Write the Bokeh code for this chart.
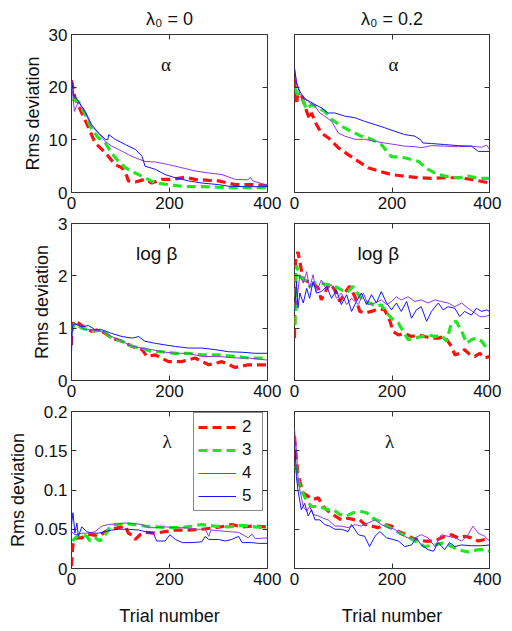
from bokeh.plotting import figure
from bokeh.layouts import gridplot
from bokeh.models import (Range1d, FixedTicker, LinearAxis, Legend, LegendItem,
                          CustomJSTickFormatter, Label, Title)
from bokeh.embed import file_html
from bokeh.resources import INLINE

FONT = "Liberation Sans"
SERIES = ["2", "3", "4", "5"]
COLORS = ["#ff1010", "#22e622", "#9035ee", "#1515ff"]
WIDTHS = [3.2, 3.2, 1, 1]
DASHES = ["9 5", "9 5", "solid", "solid"]

COL_TITLES = ["λ₀ = 0", "λ₀ = 0.2"]
ROW_LABELS = ["α", "log β", "λ"]
Y_LIMITS = [(0, 30), (0, 3), (0, 0.2)]
Y_TICKS = [[0, 10, 20, 30], [0, 1, 2, 3], [0, 0.05, 0.1, 0.15, 0.2]]
X_TICKS = [0, 200, 400]
X_LABEL = "Trial number"
Y_LABEL = "Rms deviation"

# ---- alpha, lambda0 = 0 ----
ALPHA_L0_S2 = [(0, 21.3), (7, 18.0), (21, 15.1), (35, 12.3), (48, 9.4), (62, 8.2), (75, 6.9), (89, 5.3),
               (103, 4.7), (113, 3.1), (116, 2.2), (130, 2.0), (150, 2.5), (164, 1.8), (184, 2.5), (205, 2.5),
               (232, 2.9), (252, 2.5), (280, 2.3), (300, 2.2), (334, 1.5), (368, 1.5), (400, 1.3)]
ALPHA_L0_S3 = [(2, 17.7), (14, 17.3), (28, 14.8), (41, 12.0), (55, 10.4), (69, 9.4), (82, 7.5), (96, 5.9),
               (110, 4.7), (130, 3.7), (150, 2.8), (171, 1.8), (198, 1.5), (232, 1.1), (266, 1.1), (300, 1.0),
               (334, 0.9), (400, 0.9)]
ALPHA_L0_S4 = [(0, 20.8), (6, 15.4), (14, 17.3), (28, 15.1), (41, 12.6), (55, 11.3), (69, 9.7), (82, 8.8),
               (96, 8.2), (116, 7.2), (130, 6.6), (150, 5.9), (171, 5.8), (198, 5.3), (225, 4.7), (252, 4.1),
               (280, 3.7), (307, 3.4), (334, 2.5), (360, 2.4), (365, 2.9), (370, 2.2), (395, 1.5), (400, 1.5)]
ALPHA_L0_S5 = [(0, 21.5), (5, 18.5), (14, 17.3), (28, 15.4), (41, 12.9), (55, 11.3), (69, 10.1), (74, 10.0),
               (76, 11.0), (89, 10.1), (110, 9.1), (130, 8.2), (144, 6.9), (150, 5.0), (171, 4.4), (191, 3.4),
               (212, 2.8), (239, 2.2), (266, 1.8), (300, 1.5), (320, 1.2), (354, 1.1), (400, 1.1)]

# ---- alpha, lambda0 = 0.2 ----
ALPHA_L2_S2 = [(0, 21.5), (4, 16.7), (7, 18.9), (14, 18.6), (25, 15.4), (31, 13.9), (35, 15.1), (45, 12.9),
               (55, 11.3), (69, 10.4), (90, 8.5), (110, 7.2), (131, 5.9), (151, 4.7), (172, 4.1), (199, 3.4),
               (226, 3.1), (254, 2.8), (281, 2.7), (308, 2.8), (336, 2.8), (363, 2.5), (390, 2.0), (400, 1.8)]
ALPHA_L2_S3 = [(0, 19.9), (7, 18.6), (18, 17.3), (25, 15.8), (35, 16.7), (49, 16.1), (62, 15.4), (76, 13.9),
               (96, 12.6), (117, 11.6), (137, 10.7), (158, 10.1), (178, 9.1), (199, 6.8), (226, 6.6), (254, 5.9),
               (274, 4.4), (295, 3.4), (315, 3.0), (336, 2.8), (356, 3.1), (377, 2.7), (400, 2.7)]
ALPHA_L2_S4 = [(0, 23.4), (4, 21.1), (11, 18.6), (21, 18.0), (31, 17.0), (42, 16.4), (52, 15.1), (62, 14.5),
               (76, 13.5), (90, 11.3), (103, 10.7), (124, 10.1), (144, 10.1), (165, 9.7), (185, 9.4), (206, 9.1),
               (226, 8.8), (247, 8.7), (260, 8.5), (281, 8.9), (308, 8.8), (336, 8.7), (363, 8.8), (384, 8.6),
               (394, 9.0), (400, 8.2)]
ALPHA_L2_S5 = [(0, 23.7), (4, 20.8), (11, 19.2), (21, 17.7), (31, 17.3), (42, 16.7), (55, 16.1), (69, 15.1),
               (83, 15.1), (103, 14.5), (124, 14.2), (144, 13.5), (165, 12.9), (185, 12.3), (206, 11.6),
               (226, 11.0), (247, 10.7), (260, 9.9), (263, 9.4), (281, 9.3), (308, 9.1), (336, 8.9), (363, 8.8),
               (377, 7.8), (400, 7.8)]

# ---- log beta, lambda0 = 0 ----
BETA_L0_S2 = [(0, 0.68), (1, 1.0), (4, 1.13), (14, 1.1), (28, 1.0), (41, 0.94), (55, 0.97), (69, 0.9),
              (82, 0.81), (103, 0.75), (124, 0.65), (144, 0.59), (154, 0.46), (171, 0.49), (198, 0.36),
              (225, 0.36), (252, 0.43), (280, 0.3), (307, 0.36), (334, 0.25), (361, 0.3), (400, 0.3)]
BETA_L0_S3 = [(0, 0.94), (7, 1.1), (21, 1.0), (35, 0.97), (48, 0.94), (62, 0.97), (82, 0.81), (103, 0.75),
              (124, 0.65), (144, 0.62), (164, 0.55), (184, 0.55), (211, 0.52), (239, 0.52), (266, 0.49),
              (300, 0.49), (334, 0.46), (361, 0.43), (400, 0.43)]
BETA_L0_S4 = [(0, 1.0), (4, 1.1), (14, 1.06), (28, 0.97), (41, 0.97), (62, 0.94), (82, 0.84), (103, 0.75),
              (124, 0.65), (144, 0.62), (164, 0.59), (184, 0.55), (211, 0.52), (239, 0.52), (266, 0.46),
              (300, 0.46), (334, 0.43), (361, 0.43), (400, 0.39)]
BETA_L0_S5 = [(0, 0.52), (2, 1.05), (7, 1.08), (21, 1.03), (35, 1.05), (48, 0.97), (62, 0.97), (82, 0.9),
              (103, 0.84), (124, 0.81), (137, 0.84), (150, 0.75), (171, 0.71), (191, 0.68), (212, 0.65),
              (239, 0.62), (266, 0.62), (293, 0.59), (320, 0.55), (348, 0.54), (375, 0.52), (400, 0.52)]

# ---- log beta, lambda0 = 0.2 ----
BETA_L2_S2 = [(0, 0.81), (2, 2.27), (7, 2.46), (11, 2.27), (18, 1.92), (28, 1.89), (38, 1.86), (49, 1.76),
              (55, 1.54), (62, 1.67), (72, 1.86), (83, 1.73), (93, 1.51), (103, 1.67), (113, 1.80), (124, 1.6),
              (134, 1.32), (144, 1.29), (158, 1.32), (172, 1.37), (185, 1.35), (196, 1.13), (202, 0.94),
              (213, 0.87), (226, 0.9), (240, 0.84), (254, 0.87), (267, 0.84), (281, 0.81), (295, 0.81),
              (308, 0.84), (322, 0.65), (329, 0.49), (339, 0.52), (349, 0.59), (360, 0.49), (370, 0.46),
              (380, 0.52), (390, 0.43), (400, 0.46)]
BETA_L2_S3 = [(1, 1.06), (4, 2.2), (11, 1.99), (21, 1.92), (31, 1.8), (42, 1.86), (55, 1.86), (69, 1.83),
              (83, 1.8), (96, 1.73), (110, 1.7), (120, 1.8), (131, 1.64), (141, 1.51), (155, 1.48), (168, 1.41),
              (178, 1.45), (189, 1.29), (199, 1.19), (213, 1.1), (223, 0.94), (233, 0.78), (247, 0.81),
              (260, 0.84), (274, 0.87), (288, 0.84), (301, 0.87), (312, 0.75), (322, 1.1), (332, 1.13),
              (343, 0.94), (353, 0.71), (363, 0.78), (373, 0.81), (384, 0.75), (394, 0.62), (400, 0.59)]
BETA_L2_S4 = [(0, 1.76), (4, 1.45), (11, 2.02), (18, 1.86), (25, 2.08), (31, 1.76), (38, 2.02), (45, 1.7),
              (55, 1.92), (66, 1.73), (76, 1.83), (86, 1.57), (96, 1.67), (107, 1.45), (117, 1.57), (131, 1.45),
              (141, 1.67), (151, 1.45), (165, 1.48), (178, 1.54), (189, 1.45), (199, 1.51), (209, 1.6),
              (219, 1.54), (233, 1.6), (247, 1.51), (260, 1.54), (274, 1.48), (288, 1.54), (301, 1.51),
              (315, 1.48), (329, 1.41), (343, 1.48), (356, 1.38), (370, 1.29), (380, 1.22), (390, 1.22),
              (400, 1.25)]
BETA_L2_S5 = [(0, 1.32), (4, 1.89), (7, 1.38), (11, 1.67), (18, 1.48), (25, 1.76), (31, 1.57), (38, 1.89),
              (45, 1.67), (55, 1.7), (66, 1.8), (76, 1.57), (86, 1.73), (96, 1.45), (107, 1.64), (117, 1.32),
              (127, 1.51), (137, 1.67), (148, 1.45), (158, 1.64), (168, 1.48), (178, 1.7), (189, 1.48),
              (199, 1.35), (209, 1.48), (219, 1.32), (230, 1.51), (240, 1.19), (250, 1.35), (260, 1.41),
              (271, 1.13), (281, 1.32), (295, 1.48), (305, 1.35), (315, 1.41), (329, 1.38), (339, 1.22),
              (349, 1.32), (363, 1.25), (373, 1.38), (384, 1.32), (394, 1.35), (400, 1.32)]

# ---- lambda, lambda0 = 0 ----
LAM_L0_S2 = [(0, 0.003), (2, 0.024), (4, 0.035), (11, 0.039), (21, 0.039), (31, 0.043), (41, 0.043),
             (55, 0.041), (69, 0.047), (82, 0.05), (96, 0.052), (110, 0.054), (116, 0.045), (123, 0.043),
             (130, 0.037), (140, 0.043), (150, 0.046), (171, 0.045), (191, 0.047), (212, 0.049), (239, 0.049),
             (266, 0.05), (293, 0.052), (314, 0.054), (327, 0.056), (348, 0.053), (368, 0.054), (400, 0.053)]
LAM_L0_S3 = [(2, 0.035), (11, 0.041), (21, 0.043), (31, 0.041), (38, 0.035), (48, 0.039), (58, 0.035),
             (69, 0.043), (79, 0.054), (89, 0.056), (110, 0.057), (130, 0.056), (150, 0.054), (171, 0.053),
             (198, 0.052), (225, 0.052), (246, 0.054), (266, 0.056), (293, 0.054), (320, 0.053), (348, 0.055),
             (375, 0.053), (400, 0.052)]
LAM_L0_S4 = [(0, 0.047), (7, 0.043), (21, 0.045), (35, 0.045), (48, 0.047), (62, 0.054), (75, 0.056),
             (96, 0.057), (110, 0.058), (130, 0.057), (144, 0.056), (157, 0.052), (171, 0.052), (191, 0.053),
             (212, 0.052), (232, 0.052), (252, 0.05), (273, 0.05), (280, 0.041), (285, 0.049), (320, 0.047),
             (341, 0.046), (361, 0.039), (368, 0.044), (375, 0.038), (400, 0.039)]
LAM_L0_S5 = [(0, 0.056), (3, 0.071), (7, 0.045), (11, 0.058), (14, 0.041), (21, 0.053), (31, 0.047),
             (41, 0.045), (55, 0.045), (69, 0.047), (82, 0.049), (96, 0.05), (116, 0.05), (137, 0.049),
             (150, 0.047), (167, 0.045), (174, 0.035), (191, 0.035), (201, 0.043), (212, 0.037), (226, 0.033),
             (246, 0.033), (266, 0.034), (273, 0.041), (280, 0.037), (300, 0.037), (314, 0.035), (327, 0.037),
             (341, 0.041), (348, 0.033), (368, 0.033), (382, 0.032), (400, 0.032)]

# ---- lambda, lambda0 = 0.2 ----
LAM_L2_S2 = [(0, 0.168), (4, 0.139), (7, 0.122), (11, 0.111), (18, 0.096), (28, 0.092), (38, 0.088),
             (49, 0.09), (59, 0.079), (69, 0.073), (83, 0.067), (96, 0.062), (110, 0.064), (124, 0.062),
             (134, 0.062), (144, 0.056), (158, 0.054), (172, 0.052), (185, 0.056), (199, 0.054), (213, 0.047),
             (230, 0.043), (247, 0.037), (267, 0.035), (288, 0.035), (308, 0.041), (322, 0.043), (336, 0.039),
             (349, 0.041), (363, 0.039), (377, 0.035), (390, 0.037), (400, 0.035)]
LAM_L2_S3 = [(0, 0.128), (4, 0.13), (7, 0.113), (14, 0.1), (25, 0.086), (35, 0.079), (49, 0.079),
             (59, 0.077), (69, 0.075), (79, 0.075), (93, 0.069), (107, 0.067), (120, 0.071), (134, 0.073),
             (148, 0.071), (161, 0.064), (175, 0.06), (189, 0.054), (202, 0.05), (216, 0.045), (230, 0.041),
             (247, 0.035), (267, 0.028), (288, 0.03), (308, 0.033), (322, 0.028), (336, 0.024), (356, 0.021),
             (377, 0.024), (390, 0.024), (400, 0.022)]
LAM_L2_S4 = [(0, 0.177), (4, 0.151), (7, 0.117), (11, 0.1), (18, 0.079), (25, 0.073), (31, 0.079),
             (38, 0.069), (49, 0.067), (59, 0.064), (69, 0.062), (83, 0.054), (96, 0.054), (110, 0.052),
             (124, 0.056), (137, 0.054), (151, 0.058), (165, 0.062), (178, 0.056), (192, 0.052), (206, 0.05),
             (219, 0.043), (233, 0.039), (247, 0.039), (260, 0.043), (274, 0.039), (288, 0.028), (301, 0.043),
             (315, 0.041), (329, 0.039), (343, 0.035), (356, 0.043), (366, 0.054), (377, 0.045), (390, 0.041),
             (400, 0.035)]
LAM_L2_S5 = [(0, 0.164), (4, 0.117), (7, 0.1), (14, 0.075), (21, 0.083), (28, 0.067), (35, 0.075),
             (42, 0.062), (52, 0.062), (62, 0.056), (72, 0.054), (83, 0.05), (96, 0.05), (110, 0.047),
             (117, 0.056), (131, 0.043), (144, 0.041), (154, 0.028), (165, 0.041), (175, 0.047), (189, 0.039),
             (202, 0.037), (213, 0.035), (226, 0.028), (240, 0.03), (250, 0.039), (260, 0.03), (274, 0.024),
             (285, 0.022), (295, 0.033), (308, 0.024), (318, 0.033), (329, 0.028), (343, 0.03), (363, 0.029),
             (384, 0.029), (400, 0.03)]

PANELS = [
    [[ALPHA_L0_S2, ALPHA_L0_S3, ALPHA_L0_S4, ALPHA_L0_S5], [ALPHA_L2_S2, ALPHA_L2_S3, ALPHA_L2_S4, ALPHA_L2_S5]],
    [[BETA_L0_S2, BETA_L0_S3, BETA_L0_S4, BETA_L0_S5], [BETA_L2_S2, BETA_L2_S3, BETA_L2_S4, BETA_L2_S5]],
    [[LAM_L0_S2, LAM_L0_S3, LAM_L0_S4, LAM_L0_S5], [LAM_L2_S2, LAM_L2_S3, LAM_L2_S4, LAM_L2_S5]],
]

# panel label positions (data coords)
LABEL_X = [[193, 203], [174, 172], [195, 195]]
LABEL_Y_FRAC = 0.81

# layout in pixels (page has no margin in Bokeh's template)
COL_W = [(71, 196, 14), (13, 195, 12)]               # left border, frame, right border
ROW_H = [(34, 158, 23), (8, 157, 23), (8, 157, 60)]  # top border, frame, bottom border

fmt = CustomJSTickFormatter(code="return String(Math.round(tick*1000)/1000);")
blank = CustomJSTickFormatter(code="return '';")


def style_axis(ax, show_labels):
    ax.axis_line_color = None
    ax.major_tick_in = 5
    ax.major_tick_out = 0
    ax.major_tick_line_color = "#333333"
    ax.minor_tick_line_color = None
    ax.major_label_text_font = FONT
    ax.major_label_text_color = "#111111"
    ax.axis_label_text_font = FONT
    ax.axis_label_text_font_style = "normal"
    ax.axis_label_text_font_size = "18px"
    ax.axis_label_text_color = "#111111"
    if show_labels:
        ax.major_label_text_font_size = "17px"
        ax.major_label_standoff = 4
    else:
        ax.formatter = blank
        ax.major_label_text_font_size = "1px"
        ax.major_label_standoff = 0


grid = []
for r in range(3):
    row = []
    for c in range(2):
        lb, fw, rb = COL_W[c]
        tb, fh, bb = ROW_H[r]
        p = figure(width=lb + fw + rb, height=tb + fh + bb, output_backend="svg", toolbar_location=None,
                   x_range=Range1d(0, 400), y_range=Range1d(*Y_LIMITS[r]),
                   min_border_left=lb, min_border_right=rb, min_border_top=tb, min_border_bottom=bb)
        p.grid.visible = False
        p.outline_line_color = "#333333"
        p.outline_line_width = 1
        p.background_fill_color = "white"
        p.border_fill_color = "white"

        p.xaxis.ticker = FixedTicker(ticks=X_TICKS)
        p.yaxis.ticker = FixedTicker(ticks=Y_TICKS[r])
        p.yaxis.formatter = fmt
        style_axis(p.xaxis[0], True)
        style_axis(p.yaxis[0], c == 0)
        if c == 0:
            p.yaxis.axis_label = Y_LABEL
            p.yaxis.axis_label_standoff = 3
        if r == 2:
            p.xaxis.axis_label = X_LABEL
            p.xaxis.axis_label_standoff = 18

        ax_r = LinearAxis(ticker=FixedTicker(ticks=Y_TICKS[r]))
        style_axis(ax_r, False)
        p.add_layout(ax_r, "right")
        ax_t = LinearAxis(ticker=FixedTicker(ticks=X_TICKS))
        style_axis(ax_t, False)
        p.add_layout(ax_t, "above")

        if r == 0:
            t = Title(text=COL_TITLES[c], align="center", vertical_align="middle", text_font=FONT,
                      text_font_size="18px", text_font_style="normal", text_color="#111111",
                      standoff=10, offset=0)
            p.add_layout(t, "above")

        renderers = []
        for k, data in enumerate(PANELS[r][c]):
            xs = [d[0] for d in data]
            ys = [d[1] for d in data]
            rr = p.line(xs, ys, line_color=COLORS[k], line_width=WIDTHS[k], line_dash=DASHES[k])
            renderers.append(rr)

        lo, hi = Y_LIMITS[r]
        font_for_label = "Liberation Serif" if ROW_LABELS[r] != "log β" else FONT
        p.add_layout(Label(x=LABEL_X[r][c], y=lo + (hi - lo) * LABEL_Y_FRAC, text=ROW_LABELS[r],
                           text_align="center", text_baseline="middle", text_font=font_for_label,
                           text_font_size="19px", text_color="#111111"))

        if r == 2 and c == 0:
            items = [LegendItem(label=SERIES[k], renderers=[renderers[k]]) for k in range(4)]
            leg = Legend(items=items, location=(122, 57), orientation="vertical",
                         border_line_color="#111111", border_line_width=1, background_fill_alpha=1.0,
                         label_text_font=FONT, label_text_font_size="17px", label_text_color="#111111",
                         glyph_width=38, glyph_height=20, label_height=20, label_width=16,
                         spacing=3, padding=4, margin=0, label_standoff=6)
            p.add_layout(leg, "center")
        row.append(p)
    grid.append(row)

layout = gridplot(grid, toolbar_location=None)
open("out.html", "w").write(file_html(layout, INLINE))
